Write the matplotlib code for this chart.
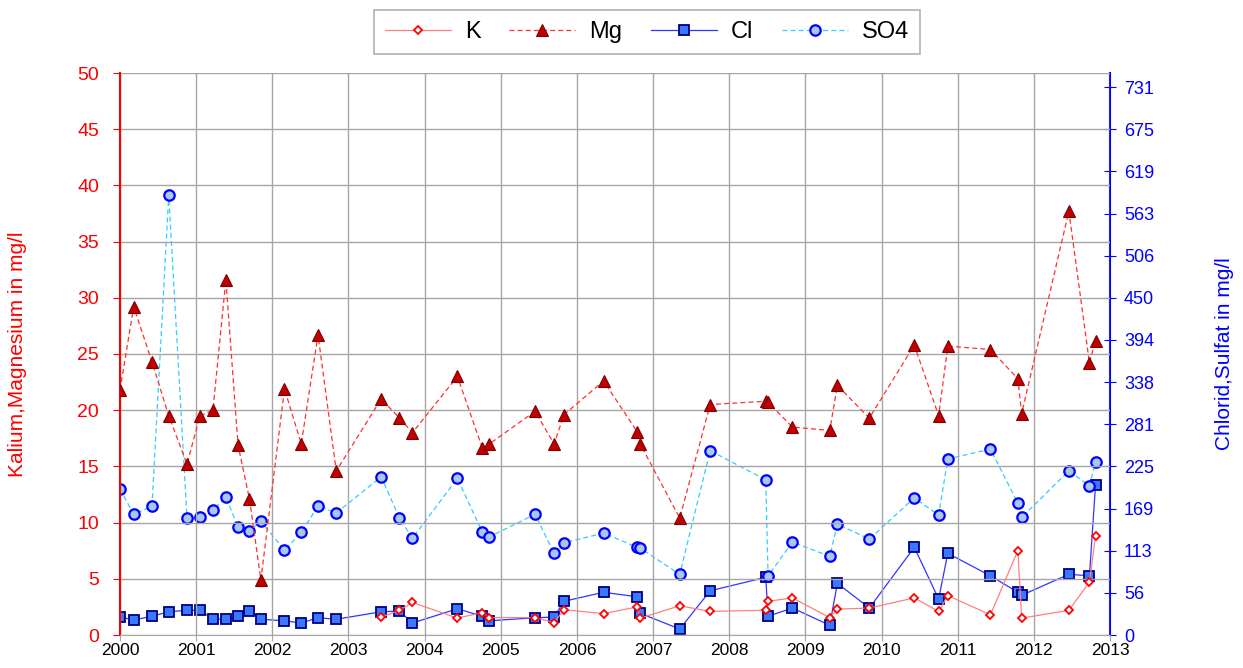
import numpy as np
import matplotlib.pyplot as plt

plt.rcParams['font.family'] = ['Liberation Sans', 'DejaVu Sans']

# Sampling dates (decimal years)
t = [2000.00, 2000.18, 2000.42, 2000.64, 2000.88, 2001.05, 2001.22, 2001.39,
     2001.55, 2001.70, 2001.85, 2002.16, 2002.38, 2002.60, 2002.84, 2003.43,
     2003.67, 2003.84, 2004.43, 2004.76, 2004.85, 2005.45, 2005.70, 2005.83,
     2006.35, 2006.79, 2006.83, 2007.35, 2007.75, 2008.48, 2008.51, 2008.83,
     2009.32, 2009.42, 2009.84, 2010.43, 2010.75, 2010.87, 2011.43, 2011.79,
     2011.84, 2012.46, 2012.73, 2012.81]

# Magnesium (mg/l)
mg = [21.8, 29.2, 24.3, 19.5, 15.2, 19.5, 20.0, 31.6, 16.9, 12.1, 4.9, 21.9,
      17.0, 26.7, 14.6, 21.0, 19.3, 18.0, 23.0, 16.6, 17.0, 19.9, 17.0, 19.6,
      22.6, 18.1, 17.0, 10.4, 20.5, 20.8, 20.7, 18.5, 18.2, 22.2, 19.3, 25.8,
      19.5, 25.7, 25.4, 22.8, 19.7, 37.7, 24.2, 26.2]

# Potassium (mg/l), measured from 2003 on
k_start = 15
k = [1.6, 2.2, 2.9, 1.5, 2.0, 1.55, 1.55, 1.1, 2.25, 1.9, 2.5, 1.5, 2.6, 2.1,
     2.2, 3.0, 3.3, 1.55, 2.3, 2.4, 3.3, 2.1, 3.5, 1.8, 7.5, 1.5, 2.2, 4.7, 8.8]

# Chloride (mg/l)
cl = [24, 20, 25, 31, 33, 33, 21, 21, 25, 32, 21, 19, 16, 23, 21, 31, 32, 16,
      35, 25, 19, 23, 24, 45, 57, 51, 29, 8, 59, 77, 25, 36, 13, 69, 36, 117,
      48, 109, 79, 57, 53, 81, 79, 200]

# Sulphate (mg/l)
so4 = [195, 161, 172, 587, 156, 157, 167, 184, 144, 139, 152, 113, 137, 172,
       163, 211, 156, 129, 209, 137, 131, 161, 109, 123, 136, 117, 116, 81,
       246, 207, 79, 124, 105, 148, 128, 183, 160, 235, 248, 176, 157, 219,
       199, 231]

years = list(range(2000, 2014))
left_ticks = list(range(0, 51, 5))
right_ticks = [i * 56.25 for i in range(14)]

fig = plt.figure(figsize=(12.43, 6.68), dpi=100)
ax = fig.add_axes([120 / 1243, 33 / 668, 990 / 1243, 562 / 668])
ax2 = ax.twinx()

grid_c = '#a6a6a6'
ax.set_xlim(2000, 2013)
ax.set_ylim(0, 50)
ax2.set_ylim(0, 750)
ax.set_xticks(years)
ax.set_yticks(left_ticks)
ax.grid(True, color=grid_c, lw=1.0)
ax.set_axisbelow(True)

# Left axis series
lk, = ax.plot(t[k_start:], k, color='#ff8080', lw=0.9, marker='D', ms=4.5,
              mfc='white', mec='#ff0000', mew=1.3, label='K', zorder=3)
lmg, = ax.plot(t, mg, color='#ff3030', lw=0.9, ls=(0, (4, 2.5)), marker='^',
               ms=8, mfc='#c00000', mec='#800000', mew=0.8, label='Mg', zorder=4)

# Right axis series
lcl, = ax2.plot(t, cl, color='#3333ff', lw=0.9, marker='s', ms=7.5,
                mfc='#3a78ff', mec='#000080', mew=1.3, label='Cl', zorder=3)
lso4, = ax2.plot(t, so4, color='#33ccff', lw=0.9, ls=(0, (4, 2.5)), marker='o',
                 ms=7.5, mfc='#a8c8f0', mec='#0000ff', mew=1.6, label='SO4', zorder=3)

ax.set_zorder(ax2.get_zorder() + 1)
ax.patch.set_visible(False)

# Spines and ticks
ax.spines['top'].set_visible(False)
ax2.spines['top'].set_visible(False)
ax.spines['left'].set_color('#ff0000')
ax.spines['left'].set_linewidth(1.5)
ax2.spines['right'].set_color('#0000ff')
ax2.spines['right'].set_linewidth(1.5)
ax.spines['bottom'].set_color(grid_c)
ax2.spines['bottom'].set_visible(False)
ax2.spines['left'].set_visible(False)
ax.spines['right'].set_visible(False)

ax.tick_params(axis='y', colors='#ff0000', labelsize=14, length=5, direction='out', pad=10)
ax.tick_params(axis='x', colors=grid_c, labelcolor='black', labelsize=12.5, length=4, pad=2)
ax2.set_yticks(right_ticks)
ax2.set_yticklabels([str(int(v + 0.5)) for v in right_ticks])
ax2.tick_params(axis='y', colors='#0000ff', labelsize=13, length=8, direction='inout', pad=6)

ax.set_ylabel('Kalium,Magnesium in mg/l', color='#ff0000', fontsize=15, labelpad=36)
ax2.set_ylabel('Chlorid,Sulfat in mg/l', color='#0000ff', fontsize=15, labelpad=44)

leg = fig.legend([lk, lmg, lcl, lso4], ['K', 'Mg', 'Cl', 'SO4'], ncol=4,
                 loc='center', bbox_to_anchor=(647 / 1243, 1 - 32 / 668),
                 fontsize=17, frameon=True, fancybox=False, edgecolor='#a0a0a0',
                 handlelength=2.8, handletextpad=0.6, columnspacing=1.2,
                 borderpad=0.45)
leg.get_frame().set_linewidth(1.2)

fig.savefig('out.png', dpi=100)
